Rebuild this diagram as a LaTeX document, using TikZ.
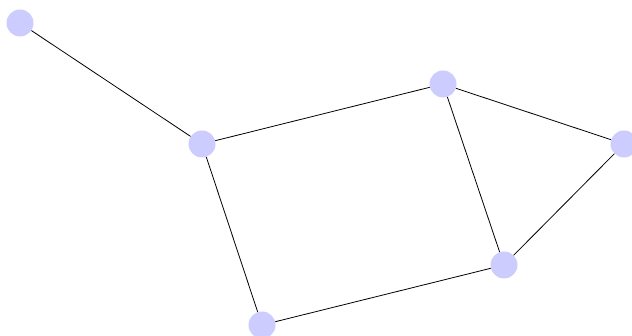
\documentclass[tikz,border=0pt]{standalone}
\begin{document}
\begin{tikzpicture}[x=1pt,y=-1pt,
  vert/.style={circle,fill={rgb,255:red,204;green,204;blue,255},draw=none,minimum size=27pt,inner sep=0pt},
  edge/.style={draw=black,line width=0.8pt}]
\useasboundingbox (0,0) rectangle (632,336);
\clip (0,0) rectangle (632,336);
\node[vert] (a) at (20,23) {};
\node[vert] (b) at (202,144) {};
\node[vert] (c) at (443,84) {};
\node[vert] (d) at (624,144) {};
\node[vert] (e) at (504,265) {};
\node[vert] (f) at (262,325) {};
\draw[edge] (a) -- (b);
\draw[edge] (b) -- (c);
\draw[edge] (c) -- (d);
\draw[edge] (c) -- (e);
\draw[edge] (d) -- (e);
\draw[edge] (b) -- (f);
\draw[edge] (f) -- (e);
\end{tikzpicture}
\end{document}
